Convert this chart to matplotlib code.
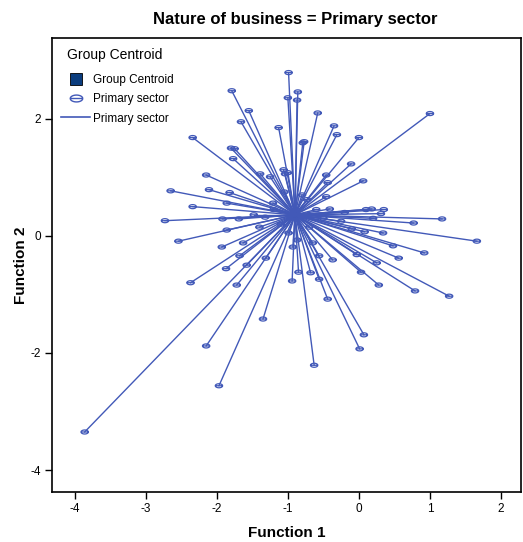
import matplotlib
matplotlib.use("Agg")
import matplotlib.pyplot as plt
from matplotlib.path import Path
from matplotlib.lines import Line2D
import numpy as np

plt.rcParams['font.family'] = ['Liberation Sans', 'DejaVu Sans']
plt.rcParams['axes.unicode_minus'] = False

# discriminant scores, Primary sector cases
func1 = [-0.99, -1.79, -1.00, -0.86, -0.87, -1.55, -0.58, -1.66, -1.13, -2.34,
         -0.77, -0.79, -1.80, -1.75, -1.77, -1.06, -1.04, -1.00, -2.15, -1.39,
         -1.25, -0.46, -2.65, -2.11, -1.82, -0.35, -0.31, 0.00, 1.00, -0.11,
         0.06, -0.44, -0.46, -1.86, -2.34, -2.73, -1.92, -1.69, -1.86, -2.54,
         -1.93, -1.63, -1.68, -1.58, -1.87, -1.31, -0.93, -0.87, -0.65, -0.56,
         -0.37, -0.85, -0.68, -0.56, -0.94, -0.99, -0.03, 0.03, -0.73, -1.48,
         -1.32, -1.21, 0.18, 0.31, 1.17, 0.77, 0.34, 1.66, 0.48, 0.92,
         0.56, 0.25, 0.08, 0.28, 0.79, 1.27, -2.37, -1.72, -1.35, -2.15,
         -1.97, -3.86, -0.44, -0.63, 0.07, 0.01, -0.41, -0.60, -0.50, -1.10,
         -0.70, -0.20, 0.10, -0.25, -1.40, -1.20, -0.80, -1.05, 0.20, -0.10,
         0.35]
func2 = [2.79, 2.48, 2.36, 2.46, 2.32, 2.14, 2.10, 1.95, 1.85, 1.68,
         1.61, 1.59, 1.50, 1.49, 1.32, 1.13, 1.06, 1.08, 1.04, 1.06,
         1.01, 1.04, 0.77, 0.79, 0.74, 1.88, 1.73, 1.68, 2.09, 1.23,
         0.94, 0.91, 0.67, 0.56, 0.50, 0.26, 0.29, 0.29, 0.10, -0.09,
         -0.19, -0.12, -0.34, -0.50, -0.56, -0.38, -0.19, -0.07, -0.12, -0.34,
         -0.41, -0.62, -0.63, -0.74, -0.77, 0.05, -0.32, -0.62, 0.62, 0.36,
         0.32, 0.56, 0.46, 0.38, 0.29, 0.22, 0.05, -0.09, -0.17, -0.29,
         -0.38, -0.46, 0.07, -0.84, -0.94, -1.03, -0.80, -0.84, -1.42, -1.88,
         -2.56, -3.35, -1.08, -2.21, -1.69, -1.93, 0.46, 0.45, 0.30, 0.20,
         0.15, 0.40, 0.45, 0.25, 0.15, 0.45, 0.70, 0.75, 0.30, 0.12,
         0.45]
centroid = (-0.90, 0.36)

blue = '#4259b8'
navy = '#0b3d7e'

# ellipse with a bar through the middle, like the SPSS marker
t = np.linspace(0, 2 * np.pi, 40)
verts = list(zip(np.cos(t), 0.55 * np.sin(t))) + [(-1, 0), (1, 0)]
codes = [Path.MOVETO] + [Path.LINETO] * 39 + [Path.MOVETO, Path.LINETO]
oval = Path(verts, codes)

fig = plt.figure(figsize=(5.23, 5.42), dpi=100)
ax = fig.add_axes([0.0994, 0.0928, 0.8966, 0.837])

ax.scatter([centroid[0]], [centroid[1]], marker='s', s=25, color=navy,
           linewidths=0, zorder=1)
for x, y in zip(func1, func2):
    ax.plot([centroid[0], x], [centroid[1], y], color=blue, lw=1.0, zorder=2)
ax.scatter(func1, func2, marker=oval, s=28, facecolors='none',
           edgecolors=blue, linewidths=0.9, zorder=3)

ax.set_xlim(-4.32, 2.28)
ax.set_ylim(-4.37, 3.38)
ax.set_xticks([-4, -3, -2, -1, 0, 1, 2])
ax.set_yticks([-4, -2, 0, 2])
ax.tick_params(direction='out', length=5, width=1, labelsize=8.5, pad=3)
for s in ax.spines.values():
    s.set_linewidth(1.2)

ax.set_xlabel('Function 1', fontsize=11, fontweight='bold', labelpad=8)
ax.set_ylabel('Function 2', fontsize=11, fontweight='bold', labelpad=2)
fig.suptitle('Nature of business = Primary sector', fontsize=12,
             fontweight='bold', x=0.565, y=0.978)

ax.text(0.032, 0.962, 'Group Centroid', transform=ax.transAxes,
        fontsize=10, va='center', ha='left')
handles = [
    Line2D([], [], marker='s', markersize=9, color=navy, markeredgecolor='black',
           markeredgewidth=0.6, linestyle='none'),
    Line2D([], [], marker=oval, markersize=9, color=blue, markerfacecolor='none',
           markeredgewidth=1.0, linestyle='none'),
    Line2D([], [], color=blue, lw=1.2),
]
ax.legend(handles, ['Group Centroid', 'Primary sector', 'Primary sector'],
          loc='upper left', frameon=False, fontsize=8.5,
          handlelength=2.4, handletextpad=0.3, labelspacing=0.6,
          borderaxespad=0, borderpad=0, bbox_to_anchor=(0.02, 0.92))

fig.savefig('out.png', dpi=100)
